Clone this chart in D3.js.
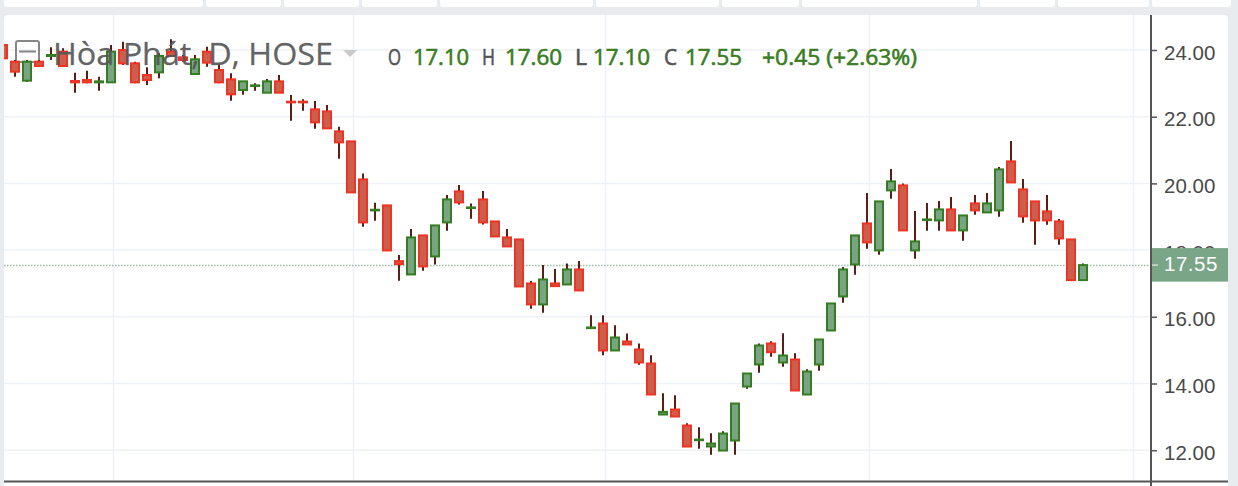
<!DOCTYPE html>
<html>
<head>
<meta charset="utf-8">
<script src="https://cdn.jsdelivr.net/npm/d3@7"></script>
<style>
  html, body { margin: 0; padding: 0; background: #e9ecef; }
  svg { display: block; }
</style>
</head>
<body>
<svg id="chart" width="1238" height="486"></svg>
<script>
// ---- DATA ----
const openP  = [24.15,23.65,23.08,23.65,23.82,23.95,23.07,23.10,23.03,23.03,24.00,23.60,23.25,23.33,23.95,23.78,23.28,23.95,23.40,23.12,22.80,22.92,22.72,23.06,22.45,22.45,22.22,22.16,21.56,21.26,20.12,19.19,19.34,17.67,17.27,18.44,17.81,18.83,19.76,19.26,19.52,18.86,18.38,18.32,17.00,16.37,17.00,16.97,17.42,15.66,15.80,14.99,15.26,15.02,14.60,13.07,13.22,12.74,12.30,12.11,11.99,12.29,13.91,14.57,15.20,14.63,14.72,13.67,14.57,15.59,16.61,17.57,18.80,17.99,19.79,19.94,17.99,18.90,18.89,19.22,18.59,19.40,19.13,19.19,20.66,19.82,19.46,19.16,18.86,18.32,17.10];
const highP  = [24.25,23.70,23.70,23.70,24.08,24.05,23.32,23.38,23.20,24.15,24.25,23.65,23.48,23.90,24.32,23.85,23.85,24.10,23.55,23.30,23.07,23.00,23.13,23.25,22.65,22.52,22.47,22.35,21.70,21.26,20.30,19.42,19.34,17.85,18.63,18.44,18.74,19.65,19.95,19.40,19.77,18.86,18.63,18.32,17.07,17.55,17.43,17.60,17.67,16.05,16.05,15.75,15.50,15.20,14.85,13.71,13.65,12.81,12.69,12.51,12.57,13.40,14.30,15.20,15.27,15.51,14.91,14.43,15.32,16.40,17.49,18.44,19.71,19.46,20.43,20.00,19.17,19.41,19.47,19.59,19.04,19.65,19.71,20.49,21.27,20.13,19.46,19.65,18.93,18.32,17.60];
const lowP   = [23.70,23.20,23.05,23.50,23.70,23.50,22.72,23.00,22.78,23.03,23.55,23.00,22.95,23.15,23.80,23.65,23.25,23.50,23.00,22.48,22.66,22.78,22.72,22.72,21.88,22.18,21.64,21.65,20.74,19.73,18.70,18.88,17.99,17.08,17.27,17.38,17.57,18.58,19.37,18.94,18.77,18.41,18.11,16.91,16.24,16.12,16.91,16.97,16.79,15.65,14.85,14.99,15.17,14.56,13.67,13.06,13.01,12.11,12.04,11.86,11.99,11.86,13.84,14.32,14.80,14.50,13.79,13.67,14.38,15.59,16.42,17.26,18.04,17.86,19.54,18.59,17.74,18.58,18.58,18.59,18.28,19.06,19.13,19.00,20.03,18.82,18.16,18.76,18.16,17.10,17.10];
const closeP = [23.75,23.35,23.65,23.52,23.85,23.52,23.03,23.03,23.06,23.95,23.60,23.03,23.10,23.82,23.82,23.70,23.72,23.62,23.03,22.67,23.06,22.94,23.06,22.72,22.43,22.43,21.83,21.65,21.23,19.73,18.83,19.21,17.99,17.58,18.38,17.51,18.74,19.52,19.43,19.28,18.83,18.41,18.11,16.91,16.37,17.12,16.92,17.42,16.79,15.68,14.99,15.38,15.17,14.63,13.67,13.15,13.01,12.11,12.32,12.20,12.50,13.40,14.30,15.14,14.94,14.84,13.79,14.36,15.32,16.40,17.42,18.44,18.23,19.46,20.06,18.59,18.26,18.92,19.22,18.59,19.04,19.19,19.40,20.42,20.03,19.01,18.89,18.89,18.35,17.10,17.55];
const yTicks = [12, 14, 16, 18, 20, 22, 24];
const monthStarts = [9, 29, 50, 72, 94];   // vertical grid (bar index)
const titleText = "Hòa Phát, D, HOSE";
const lastPrice = 17.55;
const ohlcTokens = [
  {t: "O", k: "lbl"}, {t: "17.10", k: "val"},
  {t: "H", k: "lbl"}, {t: "17.60", k: "val"},
  {t: "L", k: "lbl"}, {t: "17.10", k: "val"},
  {t: "C", k: "lbl"}, {t: "17.55", k: "val"},
  {t: "+0.45 (+2.63%)", k: "val"}
];

// ---- LAYOUT ----
const svg = d3.select("#chart");
const W = 1238, H = 486;
const plotL = 4, plotR = 1151, plotT = 15, plotB = 481;
const GREEN_S = "#357d22", GREEN_F = "#7aa384";
const RED_S = "#ee3424", RED_F = "#cc5e4b";
const WICK = "#5a1e14";

const bars = openP.map((o, i) => ({i, o, h: highP[i], l: lowP[i], c: closeP[i]}));

const x = d3.scaleLinear().domain([0, 90]).range([3, 1083]);
const y = d3.scaleLinear().domain([12, 24]).range([450.2, 50]);

// background
svg.append("rect").attr("width", W).attr("height", H).attr("fill", "#e9ecef");

// top toolbar tabs
const tabEdges = [4, 203, 206, 281, 284, 359, 362, 437, 440, 593, 596, 719, 722, 799, 802, 977, 980, 1055, 1058, 1149, 1152, 1231];
for (let j = 0; j < tabEdges.length; j += 2) {
  const a = tabEdges[j], b = tabEdges[j + 1];
  svg.append("path")
    .attr("d", `M${a},0 L${b},0 L${b},4 Q${b},7 ${b-3},7 L${a+3},7 Q${a},7 ${a},4 Z`)
    .attr("fill", "#ffffff");
}

// main panel
svg.append("path")
  .attr("d", `M${plotL},${plotT+4} Q${plotL},${plotT} ${plotL+4},${plotT} L1224,${plotT} Q1228,${plotT} 1228,${plotT+4} L1228,${H} L${plotL},${H} Z`)
  .attr("fill", "#ffffff");

// clip
svg.append("defs").append("clipPath").attr("id", "plotclip")
  .append("rect").attr("x", plotL).attr("y", plotT).attr("width", plotR - plotL - 1).attr("height", plotB - plotT - 1);

const grid = svg.append("g");
grid.selectAll("line.h").data(yTicks).join("line")
  .attr("x1", plotL).attr("x2", plotR - 2)
  .attr("y1", d => y(d)).attr("y2", d => y(d))
  .attr("stroke", "#eef2f6").attr("stroke-width", 1.5);
grid.selectAll("line.v").data(monthStarts).join("line")
  .attr("x1", d => x(d) + 2.5).attr("x2", d => x(d) + 2.5)
  .attr("y1", plotT).attr("y2", plotB)
  .attr("stroke", "#eef2f6").attr("stroke-width", 1.5);

// title icon
const titleG = svg.append("g");
titleG.append("rect").attr("x", 16).attr("y", 41).attr("width", 23).attr("height", 21).attr("rx", 2)
  .attr("fill", "none").attr("stroke", "#7a7a7a").attr("stroke-width", 2).attr("opacity", 0.9);
titleG.append("line").attr("x1", 19).attr("x2", 36).attr("y1", 51.5).attr("y2", 51.5)
  .attr("stroke", "#7a7a7a").attr("stroke-width", 2).attr("opacity", 0.9);

// price line
svg.append("line")
  .attr("x1", plotL).attr("x2", plotR - 1)
  .attr("y1", Math.round(y(lastPrice)) + 0.5).attr("y2", Math.round(y(lastPrice)) + 0.5)
  .attr("stroke", "#9dbba5").attr("stroke-width", 1.5).attr("stroke-dasharray", "1.5,1.5");

// candles
const cg = svg.append("g").attr("clip-path", "url(#plotclip)");
const cand = cg.selectAll("g.c").data(bars).join("g");
cand.append("line")
  .attr("x1", d => Math.round(x(d.i))).attr("x2", d => Math.round(x(d.i)))
  .attr("y1", d => y(d.h)).attr("y2", d => y(d.l))
  .attr("stroke", WICK).attr("stroke-width", 2);
cand.append("rect")
  .attr("x", d => Math.round(x(d.i)) - 4)
  .attr("width", 8)
  .attr("y", d => y(Math.max(d.o, d.c)))
  .attr("height", d => Math.max(Math.abs(y(d.o) - y(d.c)), 0.6))
  .attr("fill", d => d.c >= d.o ? GREEN_F : RED_F)
  .attr("stroke", d => d.c >= d.o ? GREEN_S : RED_S)
  .attr("stroke-width", 2);

// title text on top
svg.append("text")
  .attr("x", 53).attr("y", 65)
  .attr("font-family", "'Open Sans', 'DejaVu Sans', sans-serif")
  .attr("font-size", 31)
  .attr("fill", "#555555").attr("fill-opacity", 0.92)
  .attr("stroke", "#555555").attr("stroke-opacity", 0.6).attr("stroke-width", 0.4)
  .attr("textLength", 280).attr("lengthAdjust", "spacingAndGlyphs")
  .text(titleText);
svg.append("path").attr("d", "M343,50 L357,50 L350,57 Z").attr("fill", "#c9c9c9");

// OHLC legend
const tokX = [388, 413, 482, 505, 575, 593, 664, 685, 762];
const tokW = [13, 56, 13, 57, 12, 57, 13, 57, 155];
const leg = svg.append("g");
ohlcTokens.forEach((tk, j) => {
  const col = tk.k === "lbl" ? "#555555" : "#3a7d22";
  leg.append("text")
    .attr("x", tokX[j]).attr("y", 64.5)
    .attr("font-family", "'Open Sans', 'DejaVu Sans', sans-serif")
    .attr("font-size", 21)
    .attr("fill", col).attr("stroke", col).attr("stroke-width", 0.6)
    .attr("textLength", tokW[j]).attr("lengthAdjust", "spacingAndGlyphs")
    .text(tk.t);
});

// right axis
const axisG = svg.append("g").attr("transform", `translate(${plotR},0)`);
const ax = d3.axisRight(y).tickValues(yTicks).tickSize(6).tickPadding(7).tickFormat(d3.format(".2f"));
axisG.call(ax);
axisG.select(".domain").remove();
axisG.selectAll(".tick line").attr("stroke", "#555").attr("stroke-width", 1.5);
axisG.selectAll(".tick text")
  .attr("font-family", "'Liberation Sans', Arial, sans-serif")
  .attr("font-size", 20.5).attr("fill", "#4a4a4a")
  .attr("dy", "0.44em").attr("x", 13);

// axis lines
svg.append("line").attr("x1", plotR).attr("x2", plotR).attr("y1", plotT).attr("y2", H)
  .attr("stroke", "#555").attr("stroke-width", 2);
svg.append("line").attr("x1", plotL).attr("x2", 1228).attr("y1", plotB + 0.5).attr("y2", plotB + 0.5)
  .attr("stroke", "#555").attr("stroke-width", 2);

// last price label
const py = y(lastPrice);
svg.append("rect").attr("x", plotR + 1).attr("y", py - 17).attr("width", 1228 - plotR - 1).attr("height", 33.5)
  .attr("fill", "#7aa587");
svg.append("line").attr("x1", plotR + 1).attr("x2", plotR + 7).attr("y1", py).attr("y2", py)
  .attr("stroke", "#cfe0d3").attr("stroke-width", 1.5);
svg.append("text").attr("x", 1164).attr("y", py + 5.5)
  .attr("font-family", "'Liberation Sans', Arial, sans-serif")
  .attr("font-size", 20.5).attr("fill", "#ffffff")
  .attr("letter-spacing", 0.5)
  .text(d3.format(".2f")(lastPrice));
</script>
</body>
</html>
